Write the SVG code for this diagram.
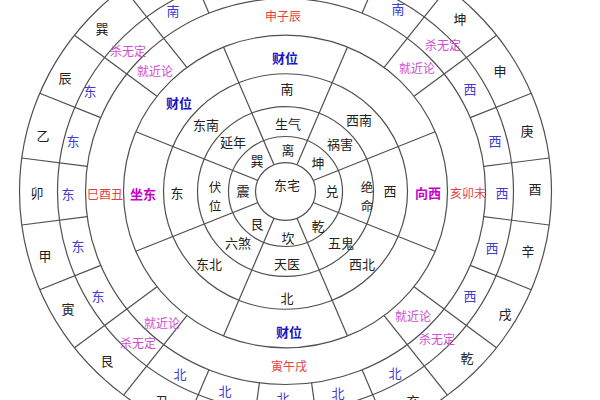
<svg xmlns="http://www.w3.org/2000/svg" xmlns:xlink="http://www.w3.org/1999/xlink" width="600" height="400" viewBox="0 0 600 400">
<style>
  .ln{stroke:#505050;stroke-width:1.2;fill:none}
  text{font-family:"Noto Sans CJK SC","Noto Sans",sans-serif;text-anchor:middle;dominant-baseline:central}
  .k{fill:#222;font-size:13px}
  .kv{fill:#222;font-size:12.5px}
  .b{fill:#3c3cd4;font-size:13px}
  .cw{fill:#1616c4;font-size:13px;font-weight:bold}
  .m{fill:#d24cd2;font-size:12px}
  .mb{fill:#c800c8;font-size:13px;font-weight:bold}
  .r{fill:#e84040;font-size:12px}
</style>
<defs>
  <line id="inner" x1="0" y1="-30" x2="0" y2="-162"/>
  <line id="short" x1="0" y1="-200" x2="0" y2="-266"/>
  <line id="long" x1="0" y1="-162" x2="0" y2="-266"/>
</defs>
<rect width="600" height="400" fill="#fff"/>
<g id="wheel" class="ln" transform="translate(285.5,191.5) scale(1,0.965)">
  <circle r="30"/><circle r="57"/><circle r="88"/><circle r="122"/>
  <circle r="162"/><circle r="200"/><circle r="228"/><circle r="266"/>
  <use xlink:href="#inner" transform="rotate(22.5)"/>
  <use xlink:href="#inner" transform="rotate(67.5)"/>
  <use xlink:href="#inner" transform="rotate(112.5)"/>
  <use xlink:href="#inner" transform="rotate(157.5)"/>
  <use xlink:href="#inner" transform="rotate(202.5)"/>
  <use xlink:href="#inner" transform="rotate(247.5)"/>
  <use xlink:href="#inner" transform="rotate(292.5)"/>
  <use xlink:href="#inner" transform="rotate(337.5)"/>
  <use xlink:href="#short" transform="rotate(7.5)"/>
  <use xlink:href="#short" transform="rotate(22.5)"/>
  <use xlink:href="#long" transform="rotate(37.5)"/>
  <use xlink:href="#long" transform="rotate(52.5)"/>
  <use xlink:href="#short" transform="rotate(67.5)"/>
  <use xlink:href="#short" transform="rotate(82.5)"/>
  <use xlink:href="#short" transform="rotate(97.5)"/>
  <use xlink:href="#short" transform="rotate(112.5)"/>
  <use xlink:href="#long" transform="rotate(127.5)"/>
  <use xlink:href="#long" transform="rotate(142.5)"/>
  <use xlink:href="#short" transform="rotate(157.5)"/>
  <use xlink:href="#short" transform="rotate(172.5)"/>
  <use xlink:href="#short" transform="rotate(187.5)"/>
  <use xlink:href="#short" transform="rotate(202.5)"/>
  <use xlink:href="#long" transform="rotate(217.5)"/>
  <use xlink:href="#long" transform="rotate(232.5)"/>
  <use xlink:href="#short" transform="rotate(247.5)"/>
  <use xlink:href="#short" transform="rotate(262.5)"/>
  <use xlink:href="#short" transform="rotate(277.5)"/>
  <use xlink:href="#short" transform="rotate(292.5)"/>
  <use xlink:href="#long" transform="rotate(307.5)"/>
  <use xlink:href="#long" transform="rotate(322.5)"/>
  <use xlink:href="#short" transform="rotate(337.5)"/>
  <use xlink:href="#short" transform="rotate(352.5)"/>
</g>
<g id="center"><text class="k" x="287" y="184">东宅</text></g>
<g id="trigrams">
  <text class="k" x="288" y="149">离</text>
  <text class="k" x="318" y="162">坤</text>
  <text class="k" x="332" y="190">兑</text>
  <text class="k" x="318" y="225">乾</text>
  <text class="k" x="288" y="237">坎</text>
  <text class="k" x="257" y="223">艮</text>
  <text class="k" x="243" y="190">震</text>
  <text class="k" x="257" y="160">巽</text>
</g>
<g id="stars">
  <text class="k" x="288" y="123">生气</text>
  <text class="k" x="340" y="143">祸害</text>
  <text class="kv" x="367" y="186">绝</text>
  <text class="kv" x="367" y="205">命</text>
  <text class="k" x="341" y="242">五鬼</text>
  <text class="k" x="287" y="263">天医</text>
  <text class="k" x="238" y="242">六煞</text>
  <text class="kv" x="215" y="186">伏</text>
  <text class="kv" x="215" y="205">位</text>
  <text class="k" x="233" y="141">延年</text>
</g>
<g id="directions">
  <text class="k" x="287" y="88">南</text>
  <text class="k" x="359" y="119">西南</text>
  <text class="k" x="390" y="190">西</text>
  <text class="k" x="362" y="263">西北</text>
  <text class="k" x="287" y="297">北</text>
  <text class="k" x="209" y="263">东北</text>
  <text class="k" x="177" y="192">东</text>
  <text class="k" x="206" y="124">东南</text>
</g>
<g id="wealth">
  <text class="cw" x="285" y="57">财位</text>
  <text class="cw" x="179" y="102">财位</text>
  <text class="mb" x="143" y="193">坐东</text>
  <text class="mb" x="428" y="192">向西</text>
  <text class="cw" x="289" y="331">财位</text>
</g>
<g id="triads">
  <text class="r" x="283" y="15">申子辰</text>
  <text class="r" x="105" y="193">巳酉丑</text>
  <text class="r" x="468" y="192">亥卯未</text>
  <text class="r" x="289" y="365">寅午戌</text>
  <text class="m" x="155" y="70">就近论</text>
  <text class="m" x="417" y="67">就近论</text>
  <text class="m" x="162" y="322">就近论</text>
  <text class="m" x="413" y="315">就近论</text>
  <text class="m" x="128" y="50">杀无定</text>
  <text class="m" x="443" y="44">杀无定</text>
  <text class="m" x="138" y="342">杀无定</text>
  <text class="m" x="437" y="338">杀无定</text>
</g>
<g id="quarters">
  <text class="b" x="173" y="10">南</text>
  <text class="b" x="398" y="8">南</text>
  <text class="b" x="90" y="90">东</text>
  <text class="b" x="73" y="140">东</text>
  <text class="b" x="68" y="193">东</text>
  <text class="b" x="78" y="245">东</text>
  <text class="b" x="98" y="295">东</text>
  <text class="b" x="470" y="88">西</text>
  <text class="b" x="495" y="140">西</text>
  <text class="b" x="502" y="192">西</text>
  <text class="b" x="492" y="247">西</text>
  <text class="b" x="470" y="295">西</text>
  <text class="b" x="180" y="373">北</text>
  <text class="b" x="225" y="390">北</text>
  <text class="b" x="283" y="397">北</text>
  <text class="b" x="338" y="392">北</text>
  <text class="b" x="395" y="372">北</text>
</g>
<g id="mountains">
  <text class="k" x="102" y="28">巽</text>
  <text class="k" x="65" y="77">辰</text>
  <text class="k" x="43" y="135">乙</text>
  <text class="k" x="37" y="192">卯</text>
  <text class="k" x="45" y="255">甲</text>
  <text class="k" x="68" y="308">寅</text>
  <text class="k" x="107" y="360">艮</text>
  <text class="k" x="162" y="400">丑</text>
  <text class="k" x="413" y="400">亥</text>
  <text class="k" x="467" y="357">乾</text>
  <text class="k" x="505" y="313">戌</text>
  <text class="k" x="528" y="250">辛</text>
  <text class="k" x="535" y="188">酉</text>
  <text class="k" x="527" y="130">庚</text>
  <text class="k" x="500" y="70">申</text>
  <text class="k" x="460" y="18">坤</text>
</g>
</svg>
